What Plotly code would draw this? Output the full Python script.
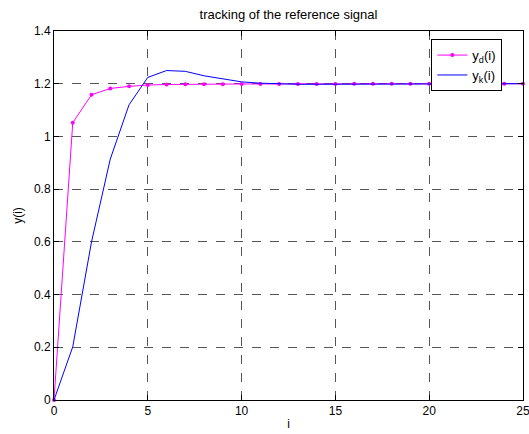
import plotly.graph_objects as go

i_vals = list(range(0, 26))
yd = [0, 1.052, 1.158, 1.182, 1.19, 1.195, 1.197, 1.198, 1.198, 1.198, 1.199, 1.199,
      1.199, 1.199, 1.199, 1.199, 1.2, 1.2, 1.2, 1.2, 1.2, 1.2, 1.2, 1.2, 1.2, 1.2]
yk = [0, 0.202, 0.60, 0.914, 1.12, 1.224, 1.25, 1.247, 1.23, 1.218, 1.207, 1.202,
      1.199, 1.198, 1.198, 1.198, 1.199, 1.2, 1.2, 1.2, 1.2, 1.2, 1.2, 1.2, 1.2, 1.2]

x_ticks = [0, 5, 10, 15, 20, 25]
y_ticks = [0, 0.2, 0.4, 0.6, 0.8, 1.0, 1.2, 1.4]
y_tick_text = ["0", "0.2", "0.4", "0.6", "0.8", "1", "1.2", "1.4"]

font = "Liberation Sans, Arial, sans-serif"

fig = go.Figure()
fig.add_trace(go.Scatter(x=i_vals, y=yd, mode="lines+markers", name="y<sub>d</sub>(i)",
                         line=dict(color="#ff00ff", width=1),
                         marker=dict(color="#ff00ff", size=4), cliponaxis=False))
fig.add_trace(go.Scatter(x=i_vals, y=yk, mode="lines", name="y<sub>k</sub>(i)",
                         line=dict(color="#0000ff", width=1), cliponaxis=False))

axis_common = dict(showline=True, linecolor="black", linewidth=1, mirror="ticks",
                   ticks="inside", ticklen=5, tickcolor="black",
                   showgrid=True, gridcolor="#555555", griddash="dash", gridwidth=1,
                   zeroline=False, ticklabeloverflow="allow", automargin=False,
                   tickfont=dict(family=font, size=12, color="black"))

fig.update_layout(
    width=529, height=434,
    margin=dict(l=54, r=6, t=31, b=34, autoexpand=False),
    paper_bgcolor="white", plot_bgcolor="white",
    title=dict(text="tracking of the reference signal", x=(54 + 523) / 2 / 529, xanchor="center",
               y=1 - 14 / 434, yanchor="middle",
               font=dict(family=font, size=13, color="black")),
    xaxis=dict(range=[0, 25], tickvals=x_ticks, title=dict(text="i", standoff=2,
               font=dict(family=font, size=12, color="black")), **axis_common),
    yaxis=dict(range=[0, 1.4], tickvals=y_ticks, ticktext=y_tick_text,
               title=dict(text="y(i)", standoff=8, font=dict(family=font, size=12, color="black")),
               **axis_common),
    legend=dict(x=0.956, y=0.978, xanchor="right", yanchor="top", bgcolor="white",
                bordercolor="black", borderwidth=1,
                font=dict(family=font, size=13, color="black"), tracegroupgap=0),
    showlegend=True,
)

fig.write_html("out.html")
